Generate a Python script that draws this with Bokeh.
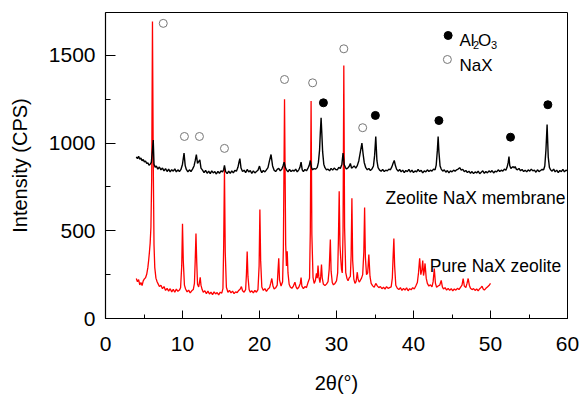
from bokeh.plotting import figure
from bokeh.models import Range1d, SingleIntervalTicker, Label
from bokeh.embed import file_html
from bokeh.resources import INLINE

FONT = "Liberation Sans"

# ---- Zeolite NaX membrane (black) ----
membrane_2theta = [
    4.0, 4.15, 4.3, 4.45, 4.6, 4.75, 4.9, 5.05, 5.2, 5.35,
    5.5, 5.65, 5.8, 5.95, 6.1, 6.2, 6.3, 6.45, 6.6, 6.8,
    7.0, 7.2, 7.4, 7.6, 7.8, 8.0, 8.2, 8.4, 8.6, 8.8,
    9.0, 9.2, 9.4, 9.6, 9.8, 10.0, 10.2, 10.35, 10.5, 10.7,
    10.9, 11.1, 11.3, 11.5, 11.65, 11.8, 11.95, 12.1, 12.25, 12.4,
    12.6, 12.8, 13.0, 13.2, 13.4, 13.6, 13.8, 14.0, 14.2, 14.4,
    14.6, 14.8, 15.0, 15.2, 15.35, 15.45, 15.6, 15.8, 16.0, 16.2,
    16.4, 16.6, 16.8, 17.0, 17.2, 17.35, 17.45, 17.6, 17.8, 18.0,
    18.2, 18.4, 18.6, 18.8, 19.0, 19.2, 19.4, 19.6, 19.8, 20.0,
    20.15, 20.3, 20.5, 20.7, 20.9, 21.1, 21.3, 21.5, 21.7, 21.9,
    22.1, 22.3, 22.5, 22.7, 22.9, 23.05, 23.2, 23.35, 23.5, 23.7,
    23.9, 24.1, 24.3, 24.5, 24.7, 24.9, 25.1, 25.25, 25.4, 25.55,
    25.7, 25.9, 26.1, 26.3, 26.45, 26.6, 26.75, 26.9, 27.1, 27.3,
    27.5, 27.65, 27.8, 27.9, 28.0, 28.1, 28.2, 28.35, 28.5, 28.7,
    28.9, 29.1, 29.3, 29.5, 29.7, 29.9, 30.1, 30.3, 30.5, 30.7,
    30.85, 31.0, 31.15, 31.3, 31.5, 31.65, 31.8, 31.95, 32.1, 32.3,
    32.5, 32.7, 32.9, 33.1, 33.3, 33.45, 33.6, 33.8, 34.0, 34.2,
    34.4, 34.6, 34.8, 34.95, 35.1, 35.25, 35.4, 35.6, 35.8, 36.0,
    36.2, 36.4, 36.6, 36.8, 37.0, 37.2, 37.35, 37.5, 37.65, 37.8,
    38.0, 38.2, 38.4, 38.6, 38.8, 39.0, 39.2, 39.4, 39.6, 39.8,
    40.0, 40.2, 40.4, 40.6, 40.8, 41.0, 41.2, 41.4, 41.6, 41.8,
    42.0, 42.2, 42.4, 42.6, 42.8, 42.95, 43.1, 43.2, 43.3, 43.45,
    43.6, 43.8, 44.0, 44.2, 44.4, 44.6, 44.8, 45.0, 45.2, 45.4,
    45.6, 45.8, 46.0, 46.2, 46.4, 46.6, 46.8, 47.0, 47.2, 47.4,
    47.6, 47.8, 48.0, 48.2, 48.4, 48.6, 48.8, 49.0, 49.2, 49.4,
    49.6, 49.8, 50.0, 50.2, 50.4, 50.6, 50.8, 51.0, 51.2, 51.4,
    51.6, 51.8, 52.0, 52.15, 52.3, 52.4, 52.5, 52.65, 52.8, 52.95,
    53.1, 53.2, 53.35, 53.5, 53.7, 53.9, 54.1, 54.3, 54.5, 54.7,
    54.9, 55.1, 55.3, 55.5, 55.7, 55.9, 56.1, 56.3, 56.5, 56.7,
    56.9, 57.05, 57.2, 57.35, 57.5, 57.65, 57.8, 58.0, 58.2, 58.4,
    58.6, 58.8, 59.0, 59.2, 59.4, 59.6, 59.8, 60.0,
]
membrane_cps = [
    922, 912, 925, 908, 915, 900, 906, 893, 898, 884,
    888, 874, 880, 890, 960, 1018, 880, 862, 870, 852,
    864, 848, 858, 842, 855, 838, 852, 836, 849, 840,
    853, 836, 848, 838, 850, 880, 943, 872, 850, 836,
    848, 838, 852, 870, 900, 935, 885, 895, 905, 858,
    846, 832, 845, 828, 840, 826, 842, 830, 838, 824,
    839, 828, 842, 835, 850, 873, 838, 826, 840, 828,
    842, 830, 845, 840, 862, 895, 912, 858, 838, 846,
    832, 850, 836, 844, 828, 842, 830, 838, 845, 869,
    845, 832, 844, 836, 848, 860, 900, 935, 870, 846,
    838, 850, 856, 842, 852, 870, 892, 862, 848, 836,
    850, 838, 846, 840, 852, 836, 848, 862, 892, 848,
    838, 850, 842, 858, 872, 901, 860, 848, 855, 852,
    862, 890, 960, 1060, 1145, 1050, 950, 880, 860, 848,
    852, 842, 856, 846, 858, 850, 848, 862, 855, 880,
    943, 878, 862, 852, 860, 868, 884, 858, 862, 870,
    858, 872, 900, 950, 1000, 940, 890, 860, 848, 856,
    844, 852, 870, 930, 1038, 900, 860, 846, 840, 850,
    838, 846, 842, 852, 848, 866, 885, 901, 872, 852,
    840, 850, 836, 846, 832, 844, 838, 850, 835, 846,
    832, 842, 836, 850, 838, 845, 830, 842, 836, 848,
    838, 846, 840, 852, 848, 875, 960, 1038, 950, 870,
    852, 840, 848, 834, 844, 830, 842, 836, 846, 840,
    848, 852, 860, 846, 850, 838, 844, 832, 840, 828,
    838, 826, 836, 830, 840, 826, 834, 842, 828, 838,
    830, 842, 834, 844, 830, 840, 836, 848, 838, 846,
    840, 852, 846, 862, 890, 924, 872, 855, 862, 866,
    858, 867, 852, 848, 856, 842, 850, 838, 846, 836,
    848, 840, 852, 842, 846, 834, 848, 838, 844, 850,
    848, 870, 960, 1106, 920, 862, 848, 840, 852, 836,
    846, 832, 844, 838, 850, 836, 846, 842,
]

# ---- Pure NaX zeolite (red) ----
powder_2theta = [
    4.0, 4.15, 4.3, 4.45, 4.6, 4.75, 4.9, 5.05, 5.2, 5.35,
    5.5, 5.6, 5.7, 5.8, 5.9, 6.0, 6.1, 6.2, 6.3, 6.4,
    6.55, 6.7, 6.85, 7.0, 7.2, 7.4, 7.6, 7.8, 8.0, 8.2,
    8.4, 8.6, 8.8, 9.0, 9.2, 9.4, 9.6, 9.75, 9.9, 10.0,
    10.1, 10.25, 10.4, 10.6, 10.8, 11.0, 11.2, 11.4, 11.55, 11.65,
    11.75, 11.85, 11.95, 12.1, 12.2, 12.3, 12.4, 12.55, 12.7, 12.9,
    13.1, 13.3, 13.5, 13.7, 13.9, 14.1, 14.3, 14.5, 14.7, 14.9,
    15.1, 15.25, 15.35, 15.45, 15.55, 15.7, 15.9, 16.1, 16.3, 16.5,
    16.7, 16.9, 17.1, 17.3, 17.5, 17.65, 17.8, 18.0, 18.2, 18.3,
    18.4, 18.5, 18.65, 18.8, 19.0, 19.2, 19.4, 19.6, 19.8, 19.95,
    20.05, 20.15, 20.3, 20.5, 20.7, 20.9, 21.1, 21.3, 21.45, 21.6,
    21.75, 21.9, 22.1, 22.3, 22.4, 22.5, 22.6, 22.8, 23.0, 23.1,
    23.25, 23.4, 23.5, 23.6, 23.7, 23.85, 24.0, 24.2, 24.4, 24.6,
    24.75, 24.9, 25.1, 25.3, 25.4, 25.5, 25.7, 25.9, 26.1, 26.3,
    26.5, 26.6, 26.7, 26.8, 26.95, 27.1, 27.25, 27.4, 27.5, 27.6,
    27.7, 27.85, 27.95, 28.05, 28.15, 28.3, 28.5, 28.7, 28.9, 29.05,
    29.2, 29.3, 29.45, 29.6, 29.8, 30.0, 30.15, 30.25, 30.35, 30.45,
    30.55, 30.65, 30.75, 30.85, 30.95, 31.05, 31.2, 31.35, 31.5, 31.65,
    31.8, 31.9, 32.0, 32.1, 32.25, 32.4, 32.55, 32.7, 32.8, 32.95,
    33.1, 33.25, 33.4, 33.55, 33.65, 33.75, 33.9, 34.05, 34.2, 34.35,
    34.5, 34.7, 34.9, 35.1, 35.3, 35.5, 35.7, 35.9, 36.1, 36.3,
    36.5, 36.7, 36.9, 37.1, 37.25, 37.35, 37.45, 37.55, 37.7, 37.9,
    38.1, 38.3, 38.5, 38.7, 38.9, 39.1, 39.3, 39.5, 39.7, 39.9,
    40.1, 40.3, 40.5, 40.65, 40.8, 40.95, 41.1, 41.2, 41.3, 41.4,
    41.5, 41.65, 41.8, 42.0, 42.2, 42.4, 42.55, 42.7, 42.85, 43.0,
    43.2, 43.4, 43.6, 43.75, 43.9, 44.1, 44.3, 44.5, 44.7, 44.9,
    45.1, 45.3, 45.5, 45.7, 45.9, 46.1, 46.3, 46.45, 46.6, 46.8,
    46.95, 47.1, 47.25, 47.4, 47.6, 47.8, 48.0, 48.2, 48.4, 48.6,
    48.75, 48.9, 49.05, 49.2, 49.4, 49.6, 49.8, 50.0,
]
powder_cps = [
    228, 210, 222, 192, 205, 188, 215, 226, 232, 252,
    290, 330, 376, 430, 520, 800, 1694, 900, 420, 290,
    230, 210, 196, 182, 190, 170, 182, 160, 172, 156,
    170, 152, 166, 150, 168, 155, 162, 175, 300, 540,
    330, 190, 168, 152, 162, 146, 158, 165, 200, 330,
    485, 320, 195, 180, 205, 235, 190, 165, 150, 158,
    142, 156, 140, 150, 136, 152, 140, 148, 135, 150,
    145, 170, 420, 855, 380, 178, 150, 160, 146, 156,
    142, 152, 148, 160, 168, 182, 158, 150, 165, 250,
    382, 240, 165, 150, 158, 146, 160, 150, 165, 300,
    622, 330, 180, 160, 170, 155, 168, 175, 200, 228,
    185, 168, 175, 190, 270, 344, 220, 185, 210, 400,
    1250, 420, 300, 384, 260, 195, 180, 172, 185, 207,
    180, 168, 178, 200, 234, 185, 170, 182, 176, 205,
    230, 500, 1240, 480, 235, 200, 215, 258, 230, 302,
    240, 205, 240, 308, 230, 195, 188, 196, 210, 280,
    450, 270, 205, 192, 200, 215, 260, 450, 726, 420,
    342, 280, 260, 500, 1443, 520, 262, 230, 215, 232,
    240, 360, 686, 330, 225, 200, 212, 264, 225, 208,
    218, 230, 250, 380, 633, 350, 250, 260, 365, 240,
    200, 186, 178, 200, 186, 176, 182, 170, 178, 168,
    182, 172, 176, 180, 230, 350, 456, 300, 190, 172,
    165, 176, 160, 172, 162, 175, 158, 170, 164, 176,
    168, 185, 205, 260, 344, 250, 280, 331, 245, 270,
    314, 230, 200, 185, 192, 180, 210, 285, 200, 178,
    185, 190, 217, 180, 168, 176, 162, 172, 160, 170,
    158, 168, 162, 172, 165, 178, 190, 228, 185, 176,
    200, 228, 190, 172, 165, 170, 160, 168, 158, 170,
    176, 184, 168, 162, 172, 180, 188, 200,
]

# ---- Peak markers ----
nax_marker_2theta = [7.5, 10.25, 12.2, 15.45, 23.25, 26.9, 30.95, 33.4]
nax_marker_cps = [1683, 1038, 1038, 970, 1363, 1344, 1538, 1088]
al2o3_marker_2theta = [28.3, 35.05, 43.3, 52.6, 57.45]
al2o3_marker_cps = [1230, 1158, 1129, 1034, 1219]

# ---- Key entries ----
key_marker_2theta = [44.5, 44.4]
key_marker_cps = [1614, 1477]

x_label_text = "2θ(°)"
y_label_text = "Intensity (CPS)"

p = figure(width=580, height=396, output_backend="svg", toolbar_location=None,
           x_range=Range1d(0, 60), y_range=Range1d(0, 1745),
           min_border_left=105, min_border_right=13, min_border_top=12,
           min_border_bottom=78)
p.grid.visible = False
p.outline_line_color = "black"
p.outline_line_width = 1
p.background_fill_color = "white"
p.border_fill_color = "white"

p.xaxis.ticker = SingleIntervalTicker(interval=10, num_minor_ticks=2)
p.yaxis.ticker = SingleIntervalTicker(interval=500, num_minor_ticks=2)
for ax in (p.xaxis[0], p.yaxis[0]):
    ax.axis_line_color = "black"
    ax.axis_line_width = 1.2
    ax.major_tick_line_color = "black"
    ax.minor_tick_line_color = "black"
    ax.major_tick_out = 0
    ax.minor_tick_out = 0
    ax.major_label_text_font = FONT
    ax.major_label_text_font_size = "21px"
    ax.major_label_text_color = "black"
p.xaxis.major_label_standoff = 18
p.yaxis.major_label_standoff = 10
p.xaxis.major_tick_in = 8
p.xaxis.minor_tick_in = 4
p.yaxis.major_tick_in = 10
p.yaxis.minor_tick_in = 5

p.yaxis.axis_label = y_label_text
p.yaxis.axis_label_text_font = FONT
p.yaxis.axis_label_text_font_size = "20px"
p.yaxis.axis_label_text_font_style = "normal"
p.yaxis.axis_label_text_color = "black"
p.yaxis.axis_label_standoff = 15

p.xaxis.axis_label = x_label_text
p.xaxis.axis_label_text_font = FONT
p.xaxis.axis_label_text_font_size = "20px"
p.xaxis.axis_label_text_font_style = "normal"
p.xaxis.axis_label_text_color = "black"
p.xaxis.axis_label_standoff = 18

p.line(powder_2theta, powder_cps, line_color="#ff0000", line_width=1.3)
p.line(membrane_2theta, membrane_cps, line_color="black", line_width=1.4)

p.scatter(nax_marker_2theta, nax_marker_cps, marker="circle", size=8,
          fill_color=None, line_color="#777777", line_width=1)
p.scatter(al2o3_marker_2theta, al2o3_marker_cps, marker="circle", size=8,
          fill_color="black", line_color="black")
p.scatter(key_marker_2theta[:1], key_marker_cps[:1], marker="circle", size=8,
          fill_color="black", line_color="black")
p.scatter(key_marker_2theta[1:], key_marker_cps[1:], marker="circle", size=8,
          fill_color=None, line_color="#777777", line_width=1)


def lab(x, y, text, size, style="normal"):
    p.add_layout(Label(x=x, y=y, text=text, text_font=FONT,
                       text_font_size=size, text_font_style=style,
                       text_color="black", text_align="left",
                       text_baseline="alphabetic"))


# key text
lab(45.97, 1585, "Al", "17px")
lab(47.73, 1557, "2", "11px")
lab(48.38, 1585, "O", "17px")
lab(50.06, 1557, "3", "11px")
lab(45.97, 1443, "NaX", "17px")

# series labels
lab(36.36, 688, "Zeolite NaX membrane", "17.5px")
lab(42.12, 298, "Pure NaX zeolite", "17.5px")

open("out.html", "w").write(file_html(p, INLINE))
